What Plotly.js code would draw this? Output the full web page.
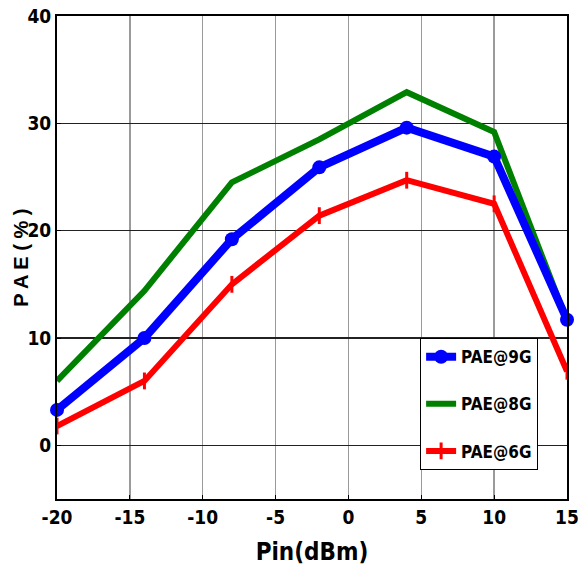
<!DOCTYPE html>
<html>
<head>
<meta charset="utf-8">
<script src="https://cdn.plot.ly/plotly-3.0.1.min.js"></script>
<style>html,body{margin:0;padding:0;background:#fff;}#chart{width:587px;height:583px;}</style>
</head>
<body>
<div id="chart"></div>
<script>
const pin = [-20, -14, -8, -2, 4, 10, 15];
const pae9G = [3.3, 10.0, 19.2, 25.9, 29.6, 26.9, 11.7];
const pae8G = [6.0, 14.4, 24.5, 28.5, 32.9, 29.2, 11.6];
const pae6G = [1.8, 6.0, 15.0, 21.4, 24.7, 22.5, 6.9];
const seriesNames = ['PAE@9G', 'PAE@8G', 'PAE@6G'];
const xTicks = [-20, -15, -10, -5, 0, 5, 10, 15];
const yTicks = [0, 10, 20, 30, 40];

const narrow = 'DejaVu Sans Condensed, Liberation Sans Narrow, sans-serif';

const traces = [
  {x: pin, y: pae8G, name: seriesNames[1], mode: 'lines', legendrank: 2, legendgroup: 'b',
   line: {color: '#008000', width: 6}, cliponaxis: false},
  {x: pin, y: pae6G, name: seriesNames[2], mode: 'lines+markers', legendrank: 3, legendgroup: 'c',
   line: {color: '#ff0000', width: 6}, cliponaxis: false,
   marker: {symbol: 'line-ns', size: 12, color: '#ff0000', line: {color: '#ff0000', width: 3}}},
  {x: pin, y: pae9G, name: seriesNames[0], mode: 'lines+markers', legendrank: 1, legendgroup: 'a',
   line: {color: '#0000ff', width: 8}, cliponaxis: false,
   marker: {symbol: 'circle', size: 14, color: '#0000ff'}}
];

const layout = {
  width: 587, height: 583,
  margin: {l: 57, r: 20, t: 16, b: 84},
  paper_bgcolor: '#fff', plot_bgcolor: '#fff',
  showlegend: true,
  legend: {
    x: 0.712, y: 0.333, xanchor: 'left', yanchor: 'top',
    bgcolor: '#fff', bordercolor: '#000', borderwidth: 1,
    font: {family: narrow, size: 17, color: '#000', weight: 'bold'},
    tracegroupgap: 22, itemwidth: 30
  },
  xaxis: {
    range: [-20, 15], tickvals: xTicks, ticktext: xTicks.map(String),
    showgrid: true, gridcolor: '#9a9a9a', gridwidth: 1.5,
    showline: true, linecolor: '#000', linewidth: 2, mirror: true,
    ticks: 'inside', ticklen: 4, tickcolor: '#000',
    zeroline: false,
    tickfont: {family: narrow, size: 19, color: '#000', weight: 'bold'},
    title: {text: 'Pin(dBm)', font: {family: narrow, size: 24, color: '#000', weight: 'bold'}, standoff: 16}
  },
  yaxis: {
    range: [-5, 40], tickvals: yTicks, ticktext: yTicks.map(String),
    showgrid: true, gridcolor: '#222', gridwidth: 1.5,
    showline: true, linecolor: '#000', linewidth: 2, mirror: true,
    ticks: 'inside', ticklen: 4, tickcolor: '#000',
    zeroline: false,
    tickfont: {family: narrow, size: 19, color: '#000', weight: 'bold'}
  },
  annotations: [{
    text: 'P A E ( % )', xref: 'paper', yref: 'paper', x: -0.072, y: 0.5,
    xanchor: 'center', yanchor: 'middle', textangle: -90, showarrow: false,
    font: {family: 'Liberation Sans, Arial, sans-serif', size: 20, color: '#000', weight: 'bold'}
  }]
};

Plotly.newPlot('chart', traces, layout, {displayModeBar: false, staticPlot: true});
</script>
</body>
</html>
